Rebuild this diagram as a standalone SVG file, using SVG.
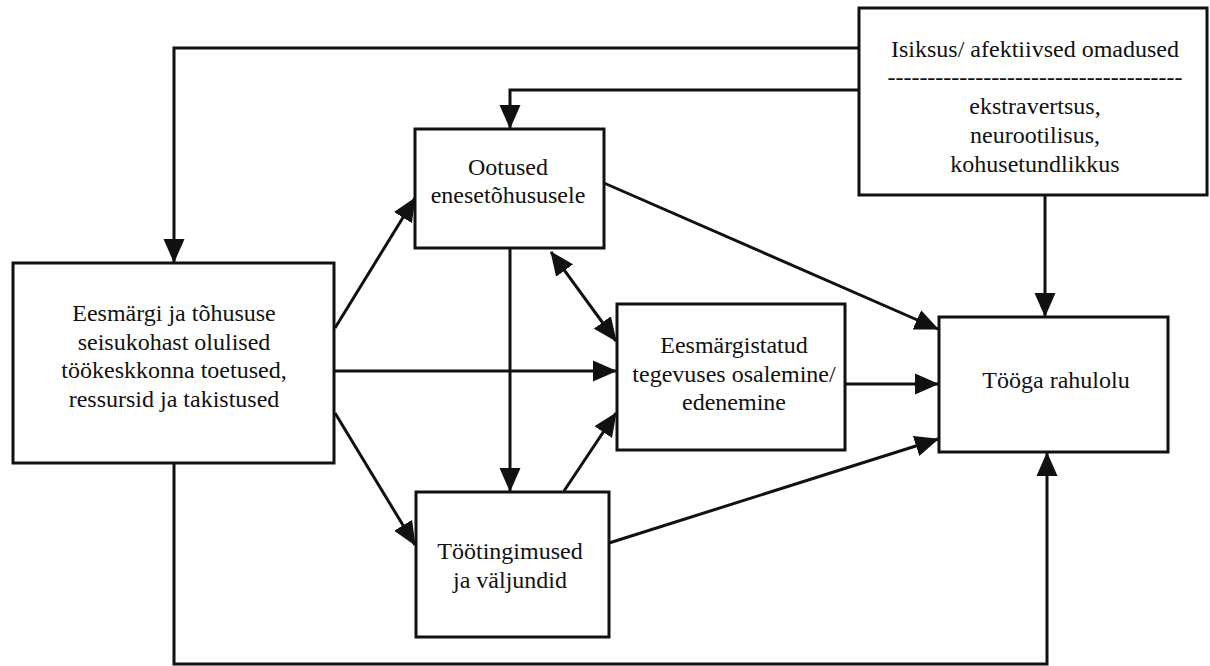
<svg xmlns="http://www.w3.org/2000/svg" width="1210" height="666" viewBox="0 0 1210 666">
<style>
.box{fill:#fff;stroke:#111;stroke-width:3}
.t{font-family:"Liberation Serif","Times New Roman",serif;font-size:24px;fill:#111;text-anchor:middle}
.c{fill:none;stroke:#111;stroke-width:3}
</style>
<defs>
<marker id="ah" markerUnits="userSpaceOnUse" markerWidth="24" markerHeight="22" refX="23" refY="10.5" orient="auto-start-reverse" viewBox="0 0 24 21">
<path d="M0,0 L24,10.5 L0,21 z" fill="#111"/>
</marker>
</defs>
<rect width="1210" height="666" fill="#fff"/>
<g id="connectors">
<path class="c" d="M859,48 H174 V262" marker-end="url(#ah)"/>
<path class="c" d="M859,90 H510 V128" marker-end="url(#ah)"/>
<path class="c" d="M1045,195 V316" marker-end="url(#ah)"/>
<path class="c" d="M174,463 V664 H1047 V453" marker-end="url(#ah)"/>
<path class="c" d="M335,328 L415,198" marker-end="url(#ah)"/>
<path class="c" d="M335,371 H616" marker-end="url(#ah)"/>
<path class="c" d="M335,413 L415,545" marker-end="url(#ah)"/>
<path class="c" d="M510,248 V491" marker-end="url(#ah)"/>
<path class="c" d="M551,252 L616,341" marker-start="url(#ah)" marker-end="url(#ah)"/>
<path class="c" d="M564,491 L616,413" marker-end="url(#ah)"/>
<path class="c" d="M604,183 L938,329" marker-end="url(#ah)"/>
<path class="c" d="M845,384 H938" marker-end="url(#ah)"/>
<path class="c" d="M609,543 L938,439" marker-end="url(#ah)"/>
</g>
<g id="isiksus">
<rect class="box" x="859" y="8" width="348" height="187"/>
<text class="t" x="1035" y="57">Isiksus/ afektiivsed omadused</text>
<text class="t" x="1035" y="85" textLength="295" lengthAdjust="spacingAndGlyphs">-------------------------------------</text>
<text class="t" x="1035" y="114">ekstravertsus,</text>
<text class="t" x="1035" y="143">neurootilisus,</text>
<text class="t" x="1035" y="172">kohusetundlikkus</text>
</g>
<g id="eesmargi">
<rect class="box" x="13" y="263" width="321" height="200"/>
<text class="t" x="174" y="321">Eesmärgi ja tõhususe</text>
<text class="t" x="174" y="350">seisukohast olulised</text>
<text class="t" x="174" y="378">töökeskkonna toetused,</text>
<text class="t" x="174" y="407">ressursid ja takistused</text>
</g>
<g id="ootused">
<rect class="box" x="415" y="129" width="189" height="119"/>
<text class="t" x="508" y="175">Ootused</text>
<text class="t" x="508" y="203">enesetõhususele</text>
</g>
<g id="eesmargistatud">
<rect class="box" x="617" y="304" width="228" height="146"/>
<text class="t" x="734" y="353">Eesmärgistatud</text>
<text class="t" x="734" y="382">tegevuses osalemine/</text>
<text class="t" x="734" y="410">edenemine</text>
</g>
<g id="tootingimused">
<rect class="box" x="416" y="492" width="193" height="145"/>
<text class="t" x="510" y="559">Töötingimused</text>
<text class="t" x="510" y="588">ja väljundid</text>
</g>
<g id="rahulolu">
<rect class="box" x="939" y="317" width="229" height="135"/>
<text class="t" x="1056" y="388">Tööga rahulolu</text>
</g>
</svg>
